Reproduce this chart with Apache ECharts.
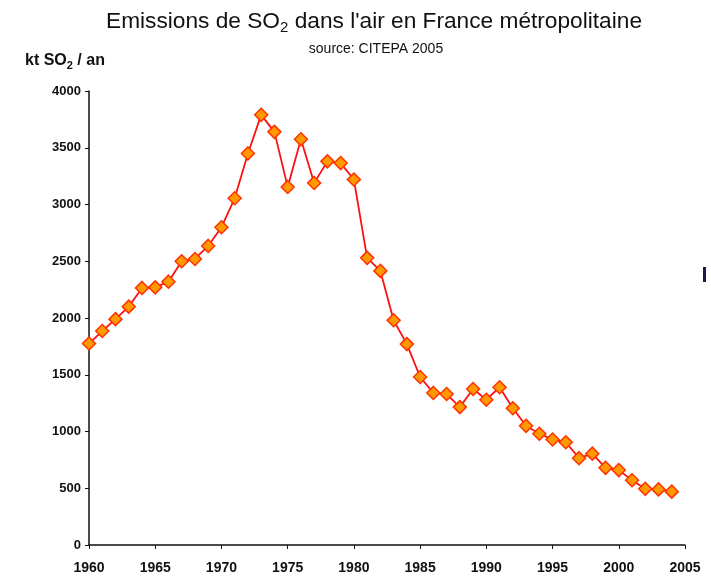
<!DOCTYPE html>
<html>
<head>
<meta charset="utf-8">
<script src="https://cdn.jsdelivr.net/npm/echarts@6/dist/echarts.min.js"></script>
<style>
  html, body { margin: 0; padding: 0; background: #fff; }
  #chart { width: 711px; height: 578px; }
</style>
</head>
<body>
<div id="chart"></div>
<script>
var years = [1960, 1961, 1962, 1963, 1964, 1965, 1966, 1967, 1968, 1969,
  1970, 1971, 1972, 1973, 1974, 1975, 1976, 1977, 1978, 1979,
  1980, 1981, 1982, 1983, 1984, 1985, 1986, 1987, 1988, 1989,
  1990, 1991, 1992, 1993, 1994, 1995, 1996, 1997, 1998, 1999,
  2000, 2001, 2002, 2003, 2004];
var so2 = [1775, 1885, 1990, 2100, 2265, 2270, 2320, 2500, 2520, 2635,
  2800, 3055, 3450, 3790, 3640, 3155, 3575, 3190, 3380, 3365,
  3220, 2530, 2415, 1980, 1770, 1480, 1340, 1330, 1215, 1375,
  1280, 1390, 1205, 1050, 980, 930, 905, 765, 805, 680,
  660, 570, 495, 490, 470];
var xTicks = [1960, 2005, 5];
var yTicks = [0, 4000, 500];

var chart = echarts.init(document.getElementById("chart"));
var font = "Liberation Sans, Arial, sans-serif";

var option = {
  backgroundColor: "#fff",
  title: [
    {
      text: "{a|Emissions de SO}{s|2}{a| dans l'air en France métropolitaine}",
      left: 369,
      top: 3,
      textAlign: "center",
      textStyle: {
        rich: {
          a: { fontFamily: font, fontSize: 22.7, color: "#111", fontWeight: "normal" },
          s: { fontFamily: font, fontSize: 15, color: "#111", fontWeight: "normal", padding: [12, 0, 0, 0] }
        }
      }
    },
    {
      text: "source: CITEPA 2005",
      left: 371,
      top: 37,
      textAlign: "center",
      textStyle: { fontFamily: font, fontSize: 14, color: "#111", fontWeight: "normal" }
    },
    {
      text: "{a|kt SO}{s|2}{a| / an}",
      left: 20,
      top: 46,
      textStyle: {
        rich: {
          a: { fontFamily: font, fontSize: 16, color: "#111", fontWeight: "bold" },
          s: { fontFamily: font, fontSize: 11, color: "#111", fontWeight: "bold", padding: [9, 0, 0, 0] }
        }
      }
    }
  ],
  graphic: [
    { type: "rect", shape: { x: 703, y: 267, width: 3, height: 15 }, style: { fill: "#1a1a4a" } }
  ],
  grid: { left: 89, right: 26, top: 91, bottom: 33 },
  xAxis: {
    type: "value",
    min: xTicks[0],
    max: xTicks[1],
    interval: xTicks[2],
    axisLine: { lineStyle: { color: "#111", width: 1.5 } },
    axisTick: { show: true, length: 4, lineStyle: { color: "#111" } },
    splitLine: { show: false },
    axisLabel: {
      color: "#111", fontFamily: font, fontSize: 14, fontWeight: "bold", margin: 16,
      formatter: function (v) { return String(v); }
    }
  },
  yAxis: {
    type: "value",
    min: yTicks[0],
    max: yTicks[1],
    interval: yTicks[2],
    axisLine: { show: true, lineStyle: { color: "#111", width: 1.5 } },
    axisTick: { show: true, length: 4, lineStyle: { color: "#111" } },
    splitLine: { show: false },
    axisLabel: {
      color: "#111", fontFamily: font, fontSize: 13, fontWeight: "bold", margin: 8,
      formatter: function (v) { return String(v); }
    }
  },
  series: [
    {
      type: "line",
      data: years.map(function (y, i) { return [y, so2[i]]; }),
      symbol: "diamond",
      symbolSize: 13,
      lineStyle: { color: "#ff1010", width: 1.8 },
      itemStyle: { color: "#ff9900", borderColor: "#ff3300", borderWidth: 1.5 },
      animation: false
    }
  ]
};
chart.setOption(option);
</script>
</body>
</html>
